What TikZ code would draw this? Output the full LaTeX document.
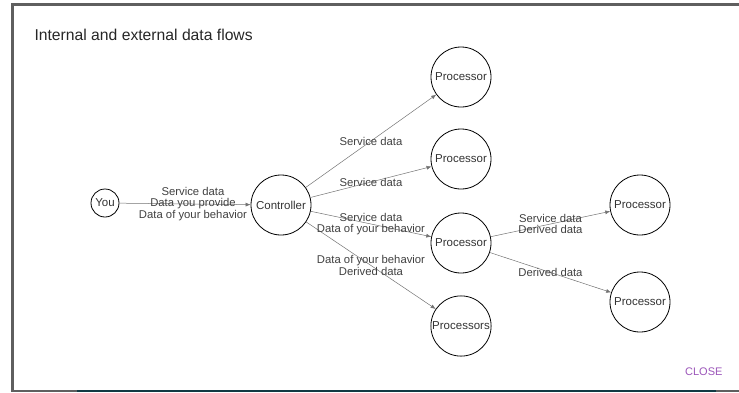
\documentclass[tikz,border=0pt]{standalone}
\usepackage{fontspec}
\setmainfont{Liberation Sans}
\usetikzlibrary{arrows.meta,positioning}
\definecolor{framegray}{RGB}{95,95,95}
\definecolor{bandteal}{RGB}{18,58,68}
\definecolor{closepurple}{RGB}{155,85,185}
\tikzset{
  party/.style={circle, draw=black, line width=0.8pt, minimum size=60pt, inner sep=1pt, font=\fontsize{11.5}{12}\selectfont, text=black!80}, % Define the party style
  user/.style={party, minimum size=28pt},
  flow/.style={draw=black!55, line width=0.5pt, -{Latex[length=5pt,width=4pt]}},
  flowlabel/.style={align=center, font=\fontsize{11.3}{11.5}\selectfont, text=black!75, inner sep=0pt}
}

\begin{document}
\begin{tikzpicture}[x=1pt, y=-1pt]
    \useasboundingbox (0,0) rectangle (739,392);

    % Frame
    \fill[framegray] (11,3) rectangle (14,392);
    \fill[framegray] (11,3) rectangle (739,6);
    \fill[framegray] (11,389.5) rectangle (739,392);
    \fill[bandteal] (77,389.5) rectangle (716,392);

    \node[anchor=west, font=\fontsize{15.7}{16}\selectfont, text=black!85] (title) at (31,35) {Internal and external data flows};
    \node[anchor=east, font=\fontsize{11}{12}\selectfont, text=closepurple] (close) at (726,372) {CLOSE};

    % Nodes
    \node[user] (you) at (105,203) {You};
    \node[party] (ctrl) at (281,205) {Controller};
    \node[party] (procA) at (461,77) {Processor};
    \node[party] (procB) at (461,159) {Processor};
    \node[party] (procC) at (461,243) {Processor};
    \node[party] (procs) at (461,326) {Processors};
    \node[party] (procD) at (640,205) {Processor};
    \node[party] (procE) at (640,302) {Processor};

    % Edges
    \draw[flow] (you) -- (ctrl);
    \draw[flow] (ctrl) -- (procA);
    \draw[flow] (ctrl) -- (procB);
    \draw[flow] (ctrl) -- (procC);
    \draw[flow] (ctrl) -- (procs);
    \draw[flow] (procC) -- (procD);
    \draw[flow] (procC) -- (procE);

    % Labels, centred between the node centres
    \path (you.center) -- node[flowlabel] {Service data\\Data you provide\\Data of your behavior} (ctrl.center);
    \path (ctrl.center) -- node[flowlabel] {Service data} (procA.center);
    \path (ctrl.center) -- node[flowlabel] {Service data} (procB.center);
    \path (ctrl.center) -- node[flowlabel] {Service data\\Data of your behavior} (procC.center);
    \path (ctrl.center) -- node[flowlabel] {Data of your behavior\\Derived data} (procs.center);
    \path (procC.center) -- node[flowlabel] {Service data\\Derived data} (procD.center);
    \path (procC.center) -- node[flowlabel] {Derived data} (procE.center);

\end{tikzpicture}
\end{document}
